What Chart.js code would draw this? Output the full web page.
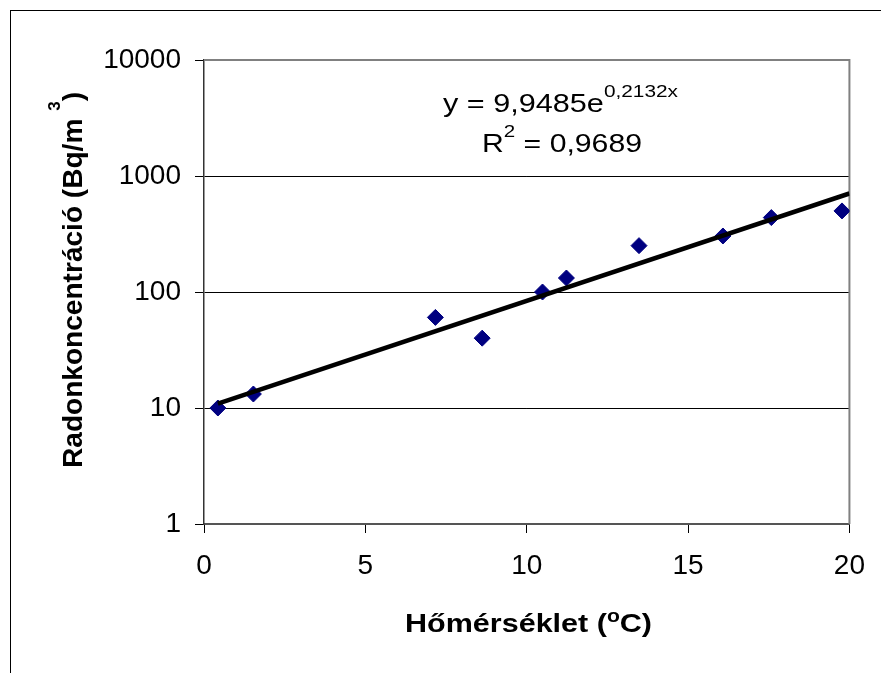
<!DOCTYPE html>
<html>
<head>
<meta charset="utf-8">
<script src="https://cdn.jsdelivr.net/npm/chart.js@4.4.0/dist/chart.umd.min.js"></script>
<style>
  html, body { margin: 0; padding: 0; background: #fff; }
  canvas { display: block; }
</style>
</head>
<body>
<canvas id="myChart" width="881" height="673"></canvas>
<script>
// measured points (temperature °C, radon Bq/m3)
const tempC = [0.43, 1.53, 7.17, 8.62, 10.49, 11.23, 13.48, 16.08, 17.58, 19.77];
const radon = [10.0, 13.2, 60.4, 40.0, 100, 132, 251, 304, 438, 500];

// exponential trendline ends (straight on a log axis)
const trendX = [0.43, 20];
const trendY = [10.9, 707];

const yTicks = [1, 10, 100, 1000, 10000];
const xTicks = [0, 5, 10, 15, 20];

const eqLine1 = [["y = 9,9485e", false], ["0,2132x", true]];
const eqLine2 = [["R", false], ["2", true], [" = 0,9689", false]];
const xTitle = [["Hőmérséklet (", false], ["o", true], ["C)", false]];
const yTitle = [["Radonkoncentráció (Bq/m ", false], ["3", true], [")", false]];

const FONT = '"Liberation Sans", Arial, sans-serif';

// text with superscript parts, centred on (0, baseline 0), stretched to a width
function drawRich(ctx, parts, o) {
  const b = o.bold ? "bold " : "";
  let total = 0;
  const widths = parts.map((p) => {
    ctx.font = b + (p[1] ? o.sup : o.size) + "px " + FONT;
    const w = ctx.measureText(p[0]).width;
    total += w;
    return w;
  });
  const sx = o.width ? o.width / total : 1;
  ctx.save();
  ctx.scale(sx, 1);
  ctx.fillStyle = "#000";
  ctx.textBaseline = "alphabetic";
  ctx.textAlign = "left";
  let x = -total / 2;
  parts.forEach((p, i) => {
    ctx.font = b + (p[1] ? o.sup : o.size) + "px " + FONT;
    ctx.fillText(p[0], x, p[1] ? -o.raise : 0);
    x += widths[i];
  });
  ctx.restore();
}

const decorations = {
  id: "decorations",
  beforeDatasetsDraw(chart) {
    const ctx = chart.ctx;
    const a = chart.chartArea;
    ctx.save();
    ctx.strokeStyle = "#808080";
    ctx.lineWidth = 2;
    ctx.beginPath();
    ctx.moveTo(a.left, a.top);
    ctx.lineTo(a.right, a.top);
    ctx.lineTo(a.right, a.bottom);
    ctx.stroke();
    ctx.restore();
  },
  afterDraw(chart) {
    const ctx = chart.ctx;
    ctx.save();
    // outer frame
    ctx.strokeStyle = "#000";
    ctx.lineWidth = 1;
    ctx.strokeRect(10.5, 10.5, 1000, 1000);

    ctx.save();
    ctx.translate(560.5, 111.7);
    drawRich(ctx, eqLine1, { size: 25, sup: 17, raise: 15, width: 235 });
    ctx.restore();

    ctx.save();
    ctx.translate(562, 151.7);
    drawRich(ctx, eqLine2, { size: 25, sup: 17, raise: 15, width: 160 });
    ctx.restore();

    ctx.save();
    ctx.translate(528.5, 631.7);
    drawRich(ctx, xTitle, { size: 26, sup: 18, raise: 10, width: 247, bold: true });
    ctx.restore();

    ctx.save();
    ctx.translate(82, 280);
    ctx.rotate(-Math.PI / 2);
    drawRich(ctx, yTitle, { size: 28, sup: 17, raise: 22, width: 376, bold: true });
    ctx.restore();

    ctx.restore();
  },
};

const canvasEl = document.getElementById("myChart").getContext("2d");

const config = {
  type: "scatter",
  data: {
    datasets: [
      {
        label: "Trend",
        type: "line",
        data: trendX.map((x, i) => ({ x: x, y: trendY[i] })),
        borderColor: "#000",
        borderWidth: 4.5,
        pointRadius: 0,
        fill: false,
        order: 0,
      },
      {
        label: "Radon",
        data: tempC.map((x, i) => ({ x: x, y: radon[i] })),
        pointStyle: "rectRot",
        pointRadius: 8,
        backgroundColor: "#000080",
        borderColor: "#000080",
        borderWidth: 1,
        order: 1,
      },
    ],
  },
  options: {
    responsive: false,
    animation: false,
    layout: { padding: { left: 0, top: 60, right: 31, bottom: 0 } },
    plugins: {
      legend: { display: false },
      tooltip: { enabled: false },
    },
    scales: {
      x: {
        type: "linear",
        min: 0,
        max: 20,
        afterBuildTicks: (axis) => {
          axis.ticks = xTicks.map((v) => ({ value: v }));
        },
        afterFit: (axis) => {
          axis.height = 149;
        },
        grid: {
          drawOnChartArea: false,
          drawTicks: true,
          tickLength: 9,
          color: "#000",
        },
        border: { display: true, color: "#555", width: 2 },
        ticks: {
          color: "#000",
          padding: 16,
          maxRotation: 0,
          font: { family: FONT, size: 28 },
        },
      },
      y: {
        type: "logarithmic",
        min: 1,
        max: 10000,
        afterBuildTicks: (axis) => {
          axis.ticks = yTicks.map((v) => ({ value: v }));
        },
        afterFit: (axis) => {
          axis.width = 204;
        },
        grid: {
          color: "#000",
          lineWidth: 1,
          drawTicks: true,
          tickLength: 9,
        },
        border: { display: true, color: "#333", width: 1.5 },
        ticks: {
          color: "#000",
          padding: 14,
          font: { family: FONT, size: 28 },
          callback: (v) => String(v),
        },
      },
    },
  },
  plugins: [decorations],
};

const myChart = new Chart(canvasEl, config);
</script>
</body>
</html>
